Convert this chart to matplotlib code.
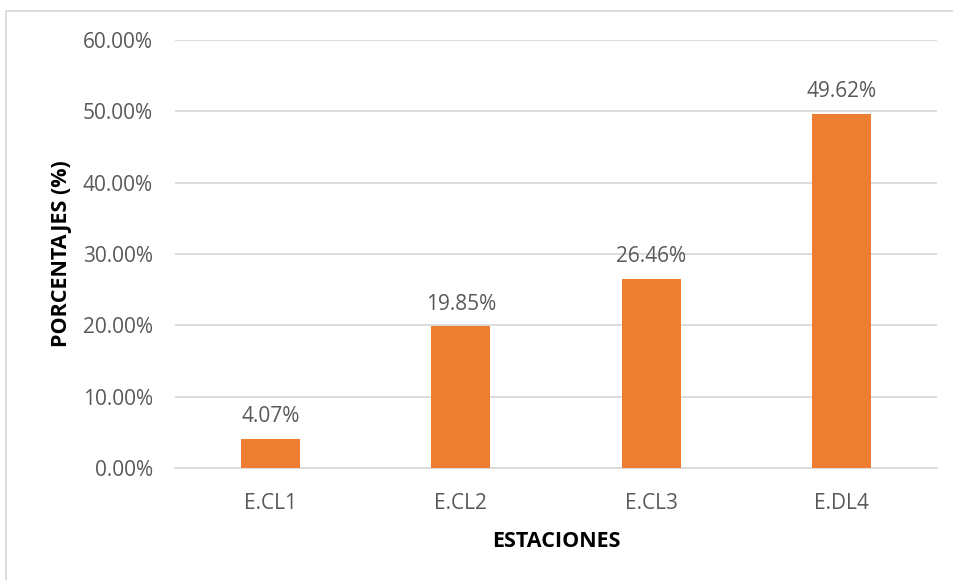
import matplotlib.pyplot as plt
from matplotlib.patches import Rectangle
from matplotlib.ticker import FuncFormatter

plt.rcParams['font.family'] = ['Open Sans', 'DejaVu Sans']

estaciones = ["E.CL1", "E.CL2", "E.CL3", "E.DL4"]
porcentajes = [4.07, 19.85, 26.46, 49.62]
y_ticks = [0, 10, 20, 30, 40, 50, 60]

W, H = 954, 580
fig = plt.figure(figsize=(W / 100, H / 100), dpi=100)

# chart-area frame (left and top edges visible)
fig.patches.append(Rectangle((6.5 / W, -0.1), 1.2, (H - 10.5) / H + 0.1,
                             transform=fig.transFigure, fill=False,
                             edgecolor="#D9D9D9", linewidth=1.3))

ax = fig.add_axes([175 / W, 1 - 468 / H, (937 - 175) / W, (468 - 40) / H])

gray = "#595959"
x = range(len(estaciones))
bars = ax.bar(x, porcentajes, width=0.31, color="#ED7D31", zorder=3)

for xi, v in zip(x, porcentajes):
    ax.annotate(f"{v:.2f}%", (xi, v), xytext=(0, 8.5), textcoords="offset points",
                ha="center", va="bottom", fontsize=15, color=gray)

ax.set_ylim(0, 60)
ax.set_xlim(-0.5, len(estaciones) - 0.5)
ax.set_yticks(y_ticks)
ax.yaxis.set_major_formatter(FuncFormatter(lambda v, p: f"{v:.2f}%"))
ax.set_xticks(list(x))
ax.set_xticklabels(estaciones)
ax.grid(axis="y", color="#D9D9D9", linewidth=1.3, zorder=0)
ax.tick_params(axis="both", length=0, labelsize=15, labelcolor=gray)
ax.tick_params(axis="y", pad=16)
ax.tick_params(axis="x", pad=18)
for s in ["top", "right", "left"]:
    ax.spines[s].set_visible(False)
ax.spines["bottom"].set_color("#D9D9D9")
ax.spines["bottom"].set_linewidth(1.3)

ax.set_xlabel("ESTACIONES", fontsize=15.5, fontweight="bold", color="black", labelpad=12)
ax.set_ylabel("PORCENTAJES (%)", fontsize=15.5, fontweight="bold", color="black", labelpad=8)

fig.savefig("out.png", dpi=100)
